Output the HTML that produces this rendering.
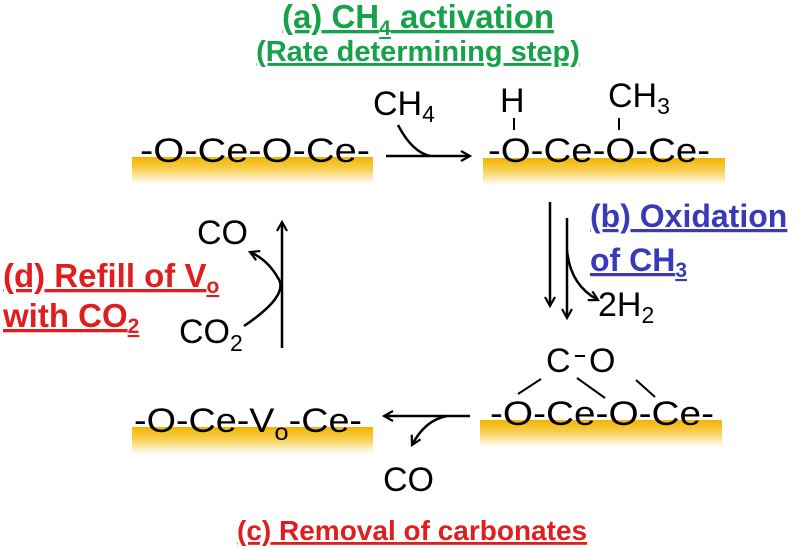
<!DOCTYPE html>
<html><head><meta charset="utf-8"><style>
html,body{margin:0;padding:0;background:#fff;}
svg{display:block;}
text{font-family:"Liberation Sans",sans-serif;}
.c{font-size:34px;fill:#000;}
.g{fill:#16a24a;font-weight:bold;}
.b{fill:#3a3ab8;font-weight:bold;font-size:32px;}
.r{fill:#e01e1e;font-weight:bold;font-size:33px;}
</style></head><body>
<svg width="800" height="549" viewBox="0 0 800 549" xmlns="http://www.w3.org/2000/svg">
<defs>
<linearGradient id="gd" x1="0" y1="0" x2="0" y2="1">
<stop offset="0" stop-color="#f2b400"/><stop offset="0.45" stop-color="#f7cf50"/><stop offset="1" stop-color="#ffffff"/>
</linearGradient>
<marker id="ah" viewBox="0 0 12 12" refX="10" refY="6" markerWidth="12" markerHeight="12" markerUnits="userSpaceOnUse" orient="auto">
<path d="M1,1 L10,6 L1,11" fill="none" stroke="#000" stroke-width="2.2"/>
</marker>
</defs>
<rect x="132" y="157" width="241" height="27" fill="url(#gd)"/>
<rect x="483" y="158" width="242" height="27" fill="url(#gd)"/>
<rect x="480" y="420" width="242" height="27" fill="url(#gd)"/>
<rect x="132" y="427" width="241" height="27" fill="url(#gd)"/>

<text x="418" y="28" text-anchor="middle" class="g" style="font-size:33px" text-decoration="underline">(a) CH<tspan font-size="21" dy="7">4</tspan><tspan dy="-7"> activation</tspan></text>
<text x="418" y="61" text-anchor="middle" class="g" style="font-size:29px" text-decoration="underline">(Rate determining step)</text>

<text x="140" y="162" class="c" textLength="230" lengthAdjust="spacingAndGlyphs">-O-Ce-O-Ce-</text>
<text x="373" y="115" class="c">CH<tspan font-size="23" dy="7">4</tspan></text>
<line x1="386" y1="156" x2="470" y2="156" stroke="#000" stroke-width="2.5" marker-end="url(#ah)"/>
<path d="M398,125 Q412,152 430,156" fill="none" stroke="#000" stroke-width="2.5"/>

<text x="488" y="162" class="c" textLength="222" lengthAdjust="spacingAndGlyphs">-O-Ce-O-Ce-</text>
<text x="500" y="112" class="c">H</text>
<line x1="514" y1="118" x2="514" y2="130" stroke="#000" stroke-width="2"/>
<text x="608" y="107" class="c">CH<tspan font-size="23" dy="7">3</tspan></text>
<line x1="619" y1="118" x2="619" y2="130" stroke="#000" stroke-width="2"/>

<line x1="550" y1="202" x2="550" y2="306" stroke="#000" stroke-width="2.5" marker-end="url(#ah)"/>
<line x1="567" y1="218" x2="567" y2="318" stroke="#000" stroke-width="2.5" marker-end="url(#ah)"/>
<path d="M567,250 Q570,285 598,300" fill="none" stroke="#000" stroke-width="2.5" marker-end="url(#ah)"/>
<text x="598" y="316" class="c">2H<tspan font-size="23" dy="7">2</tspan></text>
<text x="590" y="227" class="b" text-decoration="underline">(b) Oxidation</text>
<text x="590" y="271" class="b" text-decoration="underline">of CH<tspan font-size="21" dy="6">3</tspan></text>

<text x="546" y="372" class="c">C</text>
<line x1="575" y1="356" x2="585" y2="356" stroke="#000" stroke-width="2"/>
<text x="589" y="372" class="c">O</text>
<line x1="541" y1="379" x2="518" y2="394" stroke="#000" stroke-width="2"/>
<line x1="577" y1="378" x2="605" y2="398" stroke="#000" stroke-width="2"/>
<line x1="636" y1="380" x2="655" y2="397" stroke="#000" stroke-width="2"/>
<text x="490" y="425" class="c" textLength="224" lengthAdjust="spacingAndGlyphs">-O-Ce-O-Ce-</text>

<line x1="470" y1="416" x2="384" y2="416" stroke="#000" stroke-width="2.5" marker-end="url(#ah)"/>
<path d="M447,416 Q425,420 412,445" fill="none" stroke="#000" stroke-width="2.5" marker-end="url(#ah)"/>
<text x="383" y="491" class="c">CO</text>
<text x="237" y="540" class="r" style="font-size:28px" text-decoration="underline">(c) Removal of carbonates</text>

<text x="134" y="432" class="c" textLength="228" lengthAdjust="spacingAndGlyphs">-O-Ce-V<tspan font-size="23" dy="8">o</tspan><tspan dy="-8">-Ce-</tspan></text>

<line x1="282" y1="348" x2="282" y2="222" stroke="#000" stroke-width="2.5" marker-end="url(#ah)"/>
<path d="M244,326 Q290,295 278,278 Q268,260 250,252" fill="none" stroke="#000" stroke-width="2.5" marker-end="url(#ah)"/>
<text x="197" y="244" class="c">CO</text>
<text x="179" y="343" class="c">CO<tspan font-size="23" dy="8">2</tspan></text>
<text x="3" y="287" class="r" text-decoration="underline">(d) Refill of V<tspan font-size="21" dy="6">o</tspan></text>
<text x="3" y="327" class="r" text-decoration="underline">with CO<tspan font-size="21" dy="6">2</tspan></text>
</svg>
</body></html>
